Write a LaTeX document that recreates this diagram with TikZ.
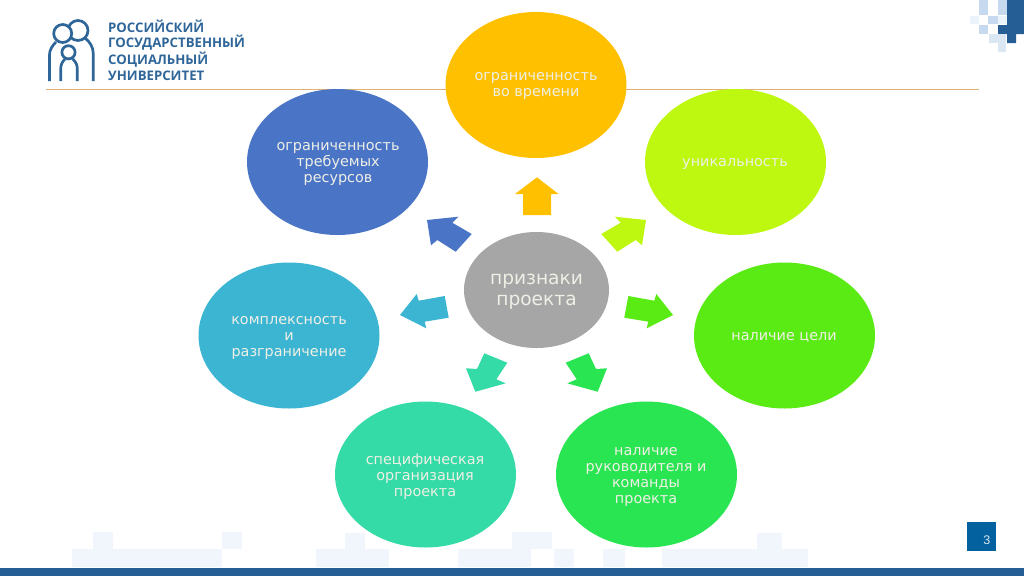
\documentclass[tikz,border=0pt]{standalone}
\usepackage{fontspec}
\setmainfont{DejaVu Sans}
\newfontfamily\logofont{Open Sans}
\newfontfamily\numfont{Liberation Sans}
\usetikzlibrary{shapes.geometric}
\definecolor{cOrange}{HTML}{FFC000}
\definecolor{cLime}{HTML}{BEF70F}
\definecolor{cGreen}{HTML}{5AEB14}
\definecolor{cDkGreen}{HTML}{2AE552}
\definecolor{cTeal}{HTML}{34DBA6}
\definecolor{cCyan}{HTML}{3BB5D2}
\definecolor{cBlue}{HTML}{4A74C6}
\definecolor{cGray}{HTML}{A6A6A6}
\definecolor{cNavy}{HTML}{245E94}
\definecolor{cPage}{HTML}{04619F}
\definecolor{cLogo}{HTML}{2F6699}
\definecolor{cRule}{HTML}{E0B070}
\definecolor{cTxt}{HTML}{EFEFE6}
\definecolor{cBand}{HTML}{F0F6FC}
\definecolor{cPixA}{HTML}{C6D9EE}
\definecolor{cPixB}{HTML}{EDF3FA}
\definecolor{cPixC}{HTML}{DCE7F4}
\tikzset{x=1pt,y=-1pt,
  blob/.style={ellipse,draw=none,minimum width=181pt,minimum height=146pt,inner sep=0pt},
  blobtxt/.style={inner sep=0pt,align=center,text=cTxt,font=\fontsize{14.4pt}{16pt}\selectfont},
  hubtxt/.style={inner sep=0pt,align=center,text=cTxt,font=\fontsize{18.6pt}{21pt}\selectfont},
  logotxt/.style={anchor=west,inner sep=0pt,text=cLogo,font=\logofont\fontsize{13.2pt}{14pt}\selectfont\bfseries},
  logoline/.style={draw=cLogo,line width=2.7pt,line cap=butt},
  blockarrow/.style={fill=#1,draw=none}
}
\begin{document}
\begin{tikzpicture}
\useasboundingbox (0,0) rectangle (1024,576);
\fill[white] (0,0) rectangle (1024,576);
% faint pixels of the footer
\foreach \a/\b/\c/\d in {72/549/222/567,93/532/113/549,222/532/242/549,316/549/389/567,345/533/365/549,458/549/531/567,512/532/552/549,554/549/574/567,603/549/625/567,662/549/808/567,757/533/782/549}
  \fill[cBand] (\a,\b) rectangle (\c,\d);
\fill[cNavy] (0,567.5) rectangle (1024,576);
% pixels top right
\fill[cNavy] (1007,0) rectangle (1024,34) (998,25) rectangle (1024,34) (1007,34) rectangle (1016,43);
\foreach \a/\b/\c/\d/\e in {979/0/988/15/cPixA,998/0/1007/15/cPixA,970/16/979/24/cPixB,988/16/998/24/cPixA,979/25/988/34/cPixA,998/16/1007/24/cPixB,989/34/1006/43/cPixC,998/43/1006/52/cPixC}
  \fill[\e] (\a,\b) rectangle (\c,\d);
% rule
\fill[cRule] (46,89) rectangle (979,90);
% logo
\draw[logoline] (49.5,81) -- (49.5,55) .. controls (49.5,50) and (52,46) .. (56,42);
\draw[logoline] (93.3,81) -- (93.3,54) .. controls (93.3,47) and (90,42) .. (85,38);
\draw[logoline] (60.7,81) -- (60.7,69) .. controls (60.7,65) and (62,62) .. (65,59);
\draw[logoline] (77.3,81) -- (77.3,69) .. controls (77.3,65) and (76,62) .. (72.7,59);
\draw[logoline] (78,30.5) circle[radius=10pt];
\draw[logoline,fill=white] (62.7,33.5) circle[radius=9pt];
\draw[logoline,fill=white] (68.5,52.3) circle[radius=6.6pt];
\node[logotxt] (l1) at (108,26.5) {РОССИЙСКИЙ};
\node[logotxt] (l2) at (108,43) {ГОСУДАРСТВЕННЫЙ};
\node[logotxt] (l3) at (108,59.5) {СОЦИАЛЬНЫЙ};
\node[logotxt] (l4) at (108,75.5) {УНИВЕРСИТЕТ};
% ellipses
\node[blob,fill=cOrange] (top) at (536,85) {};
\node[blob,fill=cLime] (uniq) at (735.5,162) {};
\node[blob,fill=cGreen] (goal) at (784.5,335.5) {};
\node[blob,fill=cDkGreen] (lead) at (646.5,474.5) {};
\node[blob,fill=cTeal] (org) at (425.5,474.5) {};
\node[blob,fill=cCyan] (comp) at (289,335.5) {};
\node[blob,fill=cBlue] (res) at (337.5,162) {};
\node[ellipse,draw=none,fill=cGray,minimum width=145pt,minimum height=116pt,inner sep=0pt] (hub) at (536.5,290) {};
% texts
\node[blobtxt] (ttop) at (536,86) {ограниченность\\во времени};
\node[blobtxt] (tuniq) at (735,164) {уникальность};
\node[blobtxt] (tgoal) at (784,337) {наличие цели};
\node[blobtxt] (tlead) at (646,476.5) {наличие\\руководителя и\\команды\\проекта};
\node[blobtxt] (torg) at (425,476.5) {специфическая\\организация\\проекта};
\node[blobtxt] (tcomp) at (289,337.5) {комплексность\\и\\разграничение};
\node[blobtxt] (tres) at (338,163.5) {ограниченность\\требуемых\\ресурсов};
\node[hubtxt] (thub) at (536.5,291.5) {признаки\\проекта};
% block arrows
\fill[blockarrow=cOrange] (523,215) -- (523,194) -- (515,194) -- (537,177.3) -- (558.5,194) -- (551,194) -- (551,215) -- cycle;
\fill[blockarrow=cBlue] (427,220) -- (458.3,216.7) -- (452.3,222.7) -- (471.7,234) -- (455.7,251.7) -- (437.3,240) -- (431,245.3) -- cycle;
\fill[blockarrow=cLime] (646,220) -- (614.7,216.7) -- (620.7,222.7) -- (601.3,234) -- (617.3,251.7) -- (635.7,240) -- (642,245.3) -- cycle;
\fill[blockarrow=cGreen] (628.3,296) -- (654.3,300.7) -- (656.3,294) -- (673,315) -- (646.7,328.3) -- (648.3,321.7) -- (624.3,317.7) -- cycle;
\fill[blockarrow=cCyan] (444.7,296) -- (418.7,300.7) -- (416.7,294) -- (400,315) -- (426.3,328.3) -- (424.7,321.7) -- (448.7,317.7) -- cycle;
\fill[blockarrow=cDkGreen] (565.7,362.7) -- (588.7,353.3) -- (596,369) -- (607,368.3) -- (597.7,391.7) -- (567.3,383.3) -- (576.7,379.3) -- cycle;
\fill[blockarrow=cTeal] (507.3,362.7) -- (484.3,353.3) -- (477,369) -- (466,368.3) -- (475.3,391.7) -- (505.7,383.3) -- (496.3,379.3) -- cycle;
% page number
\node[fill=cPage,minimum width=29pt,minimum height=29pt,inner sep=0pt] (pg) at (981,536.8) {};
\node[inner sep=0pt,text=white!85!cPage,font=\numfont\fontsize{12.5pt}{13pt}\selectfont] (pgnum) at (986.8,540) {3};
\end{tikzpicture}
\end{document}
